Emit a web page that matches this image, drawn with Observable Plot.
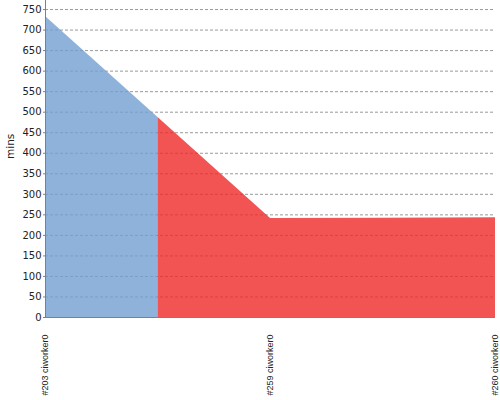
<!DOCTYPE html>
<html>
<head>
<meta charset="utf-8">
<script src="https://cdn.jsdelivr.net/npm/d3@7"></script>
<script src="https://cdn.jsdelivr.net/npm/@observablehq/plot@0.6"></script>
<style>
  html, body { margin: 0; padding: 0; background: #fff; }
  svg { overflow: visible; }
</style>
</head>
<body>
<div id="chart"></div>
<script>
const builds = ["#203 ciworker0", "#259 ciworker0", "#260 ciworker0"];
const durations = [733, 241, 243];
const statuses = ["success", "failure", "failure"];
const yTicks = [0, 50, 100, 150, 200, 250, 300, 350, 400, 450, 500, 550, 600, 650, 700, 750];
const statusColors = { success: "#729fcf", failure: "#ef2929" };

// Each build owns the band halfway to its neighbours; merge consecutive builds of equal status.
const n = builds.length;
const segs = [];
let cur = null;
for (let i = 0; i < n; i++) {
  const left = i === 0 ? { x: 0, y: durations[0] } : { x: i - 0.5, y: (durations[i - 1] + durations[i]) / 2 };
  const right = i === n - 1 ? { x: i, y: durations[i] } : { x: i + 0.5, y: (durations[i] + durations[i + 1]) / 2 };
  if (!cur || cur.status !== statuses[i]) {
    cur = { status: statuses[i], pts: [left] };
    segs.push(cur);
  }
  cur.pts.push({ x: i, y: durations[i] });
  cur.pts.push(right);
}
const rows = segs.flatMap((s, g) => s.pts.map(p => ({ ...p, g, color: statusColors[s.status] })));

const chart = Plot.plot({
  width: 500,
  height: 400,
  marginLeft: 45,
  marginRight: 5,
  marginTop: 0,
  marginBottom: 83,
  style: { fontFamily: "DejaVu Sans", fontSize: "10px", color: "#222", background: "#fff" },
  x: { domain: [0, n - 1], axis: null },
  y: { domain: [0, 772], axis: null },
  color: { type: "identity" },
  marks: [
    Plot.ruleY(yTicks.filter(d => d > 0), { stroke: "#999", strokeDasharray: "3,2", strokeWidth: 1 }),
    Plot.area(rows, { x1: "x", y1: 0, y2: "y", z: "g", fill: "color", fillOpacity: 0.8 }),
    Plot.axisY({ ticks: yTicks, tickSize: 2, tickPadding: 2, fontSize: 10, fontFamily: "DejaVu Sans", label: null, stroke: "#808080" }),
    Plot.axisX({
      ticks: d3.range(n),
      tickFormat: i => builds[i],
      tickRotate: -90,
      tickSize: 0,
      tickPadding: 17,
      fontSize: 9,
      fontFamily: "Liberation Sans",
      label: null
    }),
    Plot.ruleX([0], { stroke: "#808080" }),
    Plot.ruleY([0], { stroke: "#808080" }),
    Plot.text(["mins"], { frameAnchor: "left", dx: -35, rotate: -90, fontSize: 10.5, fontFamily: "DejaVu Sans", fill: "#222" })
  ]
});
document.getElementById("chart").appendChild(chart);
</script>
</body>
</html>
